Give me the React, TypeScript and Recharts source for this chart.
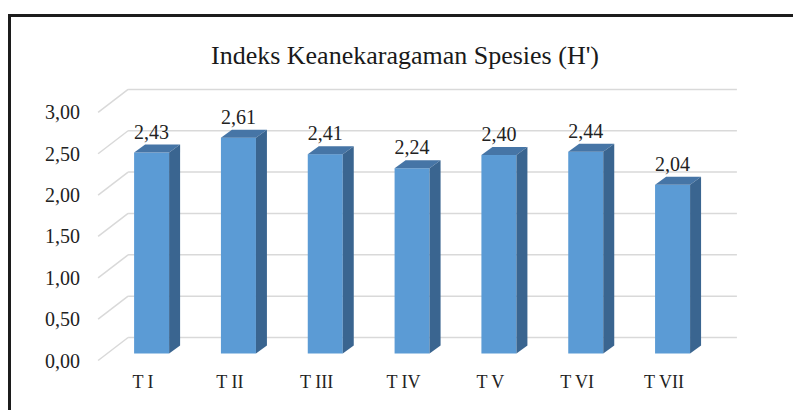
import { BarChart, Bar, XAxis, YAxis, CartesianGrid, LabelList } from 'recharts';

const stations = ['T I', 'T II', 'T III', 'T IV', 'T V', 'T VI', 'T VII'];
const diversity = [2.43, 2.61, 2.41, 2.24, 2.4, 2.44, 2.04];
const yTicks = [0, 0.5, 1, 1.5, 2, 2.5, 3];

const data = stations.map((name, i) => ({ name, h: diversity[i] }));

const serif = { fontFamily: "'Liberation Serif', 'Times New Roman', Times, serif" };
const DX = 11;
const DY = 8;

const fmt = (v: number) => v.toFixed(2).replace('.', ',');

// 3d box: front face, top face, right side
const Box = (props: any) => {
    const { x, y, width: w, height: h } = props;
    if (h == null || w == null) return null;
    return (
        <g>
            <rect x={x} y={y} width={w} height={h} fill="#5B9BD5" />
            <polygon
                points={`${x},${y} ${x + DX},${y - DY} ${x + w + DX},${y - DY} ${x + w},${y}`}
                fill="#4675A6"
            />
            <polygon
                points={`${x + w},${y} ${x + w + DX},${y - DY} ${x + w + DX},${y + h - DY} ${x + w},${y + h}`}
                fill="#3A6590"
            />
        </g>
    );
};

// back wall line + diagonal on the left side wall
const GridLine = (props: any) => {
    const { x1, x2, y1, index } = props;
    const yb = y1 - 16;
    return (
        <g key={`g-${index}`}>
            <line x1={x1 + 20} y1={yb} x2={x2 + 21} y2={yb} stroke="#D9D9D9" strokeWidth={1.5} />
            <line x1={x1 - 10} y1={yb + 23} x2={x1 + 20} y2={yb} stroke="#D9D9D9" strokeWidth={1.5} />
        </g>
    );
};

const YTick = (props: any) => {
    const { x, y, payload } = props;
    return (
        <text x={x - 28} y={y + 14} textAnchor="end" fontSize={20} style={serif} fill="#222">
            {fmt(payload.value)}
        </text>
    );
};

const XTick = (props: any) => {
    const { x, y, payload } = props;
    return (
        <text x={x - 8.5} y={y + 34.5} textAnchor="middle" fontSize={18} style={serif} fill="#222">
            {payload.value}
        </text>
    );
};

const ValueLabel = (props: any) => {
    const { x, y, width, value } = props;
    return (
        <text x={x + width / 2} y={y - 14} textAnchor="middle" fontSize={20} style={serif} fill="#222">
            {fmt(value)}
        </text>
    );
};

export default function App() {
    return (
        <div style={{ position: 'absolute', left: 0, top: 0, width: 793, height: 410, background: '#fff', overflow: 'hidden', ...serif }}>
            <div
                style={{
                    position: 'absolute', left: 8, top: 14, width: 800, height: 420,
                    borderLeft: '3px solid #1c1c1c', borderTop: '3px solid #1c1c1c',
                }}
            />
            <div style={{ position: 'absolute', left: 0, top: 0 }}>
                <BarChart
                    width={793}
                    height={410}
                    data={data}
                    margin={{ top: 105.4, right: 77.1, bottom: 26.5, left: 0 }}
                    barSize={35}
                    style={serif}
                >
                    <text x={405} y={64} textAnchor="middle" fontSize={26} style={serif} fill="#1a1a1a">
                        Indeks Keanekaragaman Spesies (H')
                    </text>
                    <CartesianGrid vertical={false} horizontal={GridLine} />
                    <XAxis
                        dataKey="name"
                        axisLine={false}
                        tickLine={false}
                        tickSize={0}
                        tickMargin={0}
                        height={30}
                        interval={0}
                        tick={XTick}
                    />
                    <YAxis
                        domain={[0, 3]}
                        ticks={yTicks}
                        axisLine={false}
                        tickLine={false}
                        tickSize={0}
                        tickMargin={0}
                        width={108.1}
                        tick={YTick}
                    />
                    <Bar dataKey="h" shape={Box} isAnimationActive={false}>
                        <LabelList dataKey="h" content={ValueLabel} />
                    </Bar>
                </BarChart>
            </div>
        </div>
    );
}
